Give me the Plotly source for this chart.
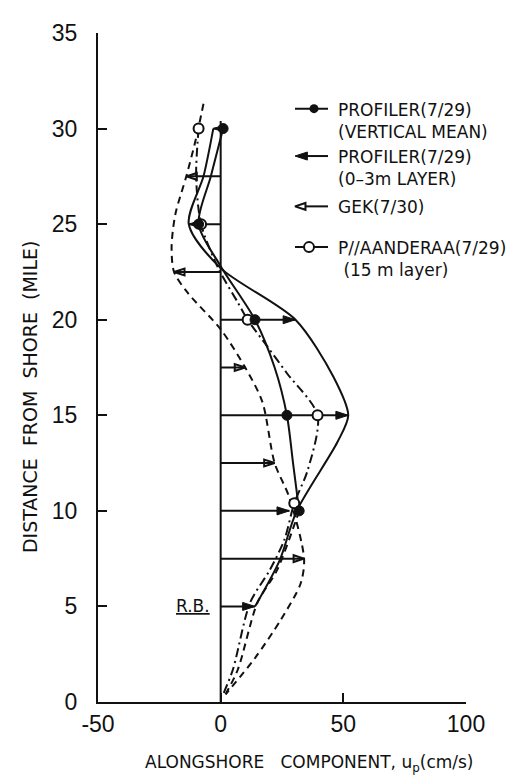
import plotly.graph_objects as go

# ---------------- data ----------------
# PROFILER (7/29) vertical mean : filled circles + solid curve
vm_y = [30, 25, 20, 15, 10]
vm_x = [1, -9, 14, 27, 32]
vm_curve_y = [30, 27.5, 25, 22.8, 20, 17.5, 15, 12.5, 10]
vm_curve_x = [1, -4, -9, 0, 14, 22, 27, 29.5, 32]
vm_ext_y = [10, 6.9, 5.2, 1.7, 0.4]
vm_ext_x = [32, 23, 15, 7, 2]

# PROFILER (7/29) 0-3 m layer : filled arrows + solid curve
pl_y = [30, 25, 20, 15, 10]
pl_x = [-3, -13, 30.5, 52, 28]
pl_curve_y = [30, 27.5, 25, 22.7, 20, 17, 15, 13.6, 10, 7.4, 5]
pl_curve_x = [-3, -7, -13, 0, 30.5, 46, 52, 47.6, 31, 24, 14]

# R.B. arrow
rb_y = [5]
rb_x = [14]

# GEK (7/30) : open arrows + dashed curve
gek_y = [27.5, 22.5, 17.5, 12.5, 7.5]
gek_x = [-14, -19, 10, 22, 34]
gek_curve_y = [31.3, 29.5, 27.5, 25.5, 23.8, 22.5, 21.4, 19.5, 17.5, 15.7, 12.5, 10.7, 7.5, 6.2, 4.3, 2.3, 0.4]
gek_curve_x = [-7, -10, -14, -18.5, -20, -19, -13.4, 0, 10, 17, 22, 28, 34, 32.6, 24.5, 14, 2]

# P//AANDERAA (7/29) 15 m layer : open circles + dash-dot curve
aa_y = [30, 25, 20, 15, 10.4]
aa_x = [-9, -8, 11, 39.5, 30]
aa_curve_y = [30, 27.5, 25, 22.7, 20.9, 20, 18.6, 17.2, 15, 12.1, 10.4, 8.5, 6.9, 5.2, 1.7, 0.4]
aa_curve_x = [-9, -10, -8, -1, 7, 11, 19, 27, 39.5, 35.4, 30, 26, 20, 12, 5, 1]

# shore reference line (x = 0)
zero_y = [0, 30.4]
zero_x = [0, 0]

x_ticks = [-50, 0, 50, 100]
x_ticktext = ["-50", "0", "50", "100"]
y_ticks = [0, 5, 10, 15, 20, 25, 30, 35]
y_ticktext = ["0", "5", "10", "15", "20", "25", "30", "35"]

# legend entries
leg_labels = [
    "PROFILER(7/29)<br>(VERTICAL MEAN)",
    "PROFILER(7/29)<br>(0–3m LAYER)",
    "GEK(7/30)",
    "P//AANDERAA(7/29)<br> (15 m layer)",
]

# ---------------- figure ----------------
BLACK = "#111111"
L, R, T, B = 90, 63, 16, 81
W, H = 521, 775
pw, ph = W - L - R, H - T - B


def px_x(p):
    return (p - L) / pw


def px_y(p):
    return (H - B - p) / ph


fig = go.Figure()


def shafts(xs, ys):
    sx, sy = [], []
    for x, y in zip(xs, ys):
        sx += [0, x, None]
        sy += [y, y, None]
    return sx, sy


# zero line
fig.add_trace(go.Scatter(x=zero_x, y=zero_y, mode="lines",
                         line=dict(color=BLACK, width=2), hoverinfo="skip"))

# arrow shafts
for xs, ys in [(pl_x, pl_y), (gek_x, gek_y), (rb_x, rb_y)]:
    sx, sy = shafts(xs, ys)
    fig.add_trace(go.Scatter(x=sx, y=sy, mode="lines",
                             line=dict(color=BLACK, width=2), hoverinfo="skip"))

# curves
fig.add_trace(go.Scatter(x=vm_curve_x, y=vm_curve_y, mode="lines",
                         line=dict(color=BLACK, width=2, shape="spline", smoothing=0.8)))
fig.add_trace(go.Scatter(x=vm_ext_x, y=vm_ext_y, mode="lines",
                         line=dict(color=BLACK, width=2, shape="spline", smoothing=0.8, dash="7px,5px")))
fig.add_trace(go.Scatter(x=pl_curve_x, y=pl_curve_y, mode="lines",
                         line=dict(color=BLACK, width=2, shape="spline", smoothing=0.8)))
fig.add_trace(go.Scatter(x=gek_curve_x, y=gek_curve_y, mode="lines",
                         line=dict(color=BLACK, width=2, shape="spline", smoothing=0.8, dash="7px,5px")))
fig.add_trace(go.Scatter(x=aa_curve_x, y=aa_curve_y, mode="lines",
                         line=dict(color=BLACK, width=2, shape="spline", smoothing=0.8,
                                   dash="9px,4px,2px,4px")))


def ang(xs):
    return [90 if v >= 0 else 270 for v in xs]


# arrow heads
fig.add_trace(go.Scatter(x=pl_x + rb_x, y=pl_y + rb_y, mode="markers",
                         marker=dict(symbol="arrow", angle=ang(pl_x + rb_x), size=13,
                                     color=BLACK, line=dict(color=BLACK, width=1))))
fig.add_trace(go.Scatter(x=gek_x, y=gek_y, mode="markers",
                         marker=dict(symbol="arrow-open", angle=ang(gek_x), size=11,
                                     color=BLACK, line=dict(color=BLACK, width=2))))
# point markers
fig.add_trace(go.Scatter(x=aa_x, y=aa_y, mode="markers",
                         marker=dict(symbol="circle", size=10, color="white",
                                     line=dict(color=BLACK, width=2))))
fig.add_trace(go.Scatter(x=vm_x, y=vm_y, mode="markers",
                         marker=dict(symbol="circle", size=10, color=BLACK,
                                     line=dict(color=BLACK, width=1))))

# ---------------- legend (drawn on an overlay axis in plot fractions) ----------------
leg_glyph_y = [px_y(92.7), px_y(140.7), px_y(191.7), px_y(233)]
gx0, gx1 = px_x(287), px_x(320)
# item 1: line + filled dot
fig.add_trace(go.Scatter(x=[gx0, gx1], y=[leg_glyph_y[0]] * 2, mode="lines",
                         line=dict(color=BLACK, width=2), xaxis="x2", yaxis="y2"))
fig.add_trace(go.Scatter(x=[px_x(306)], y=[leg_glyph_y[0]], mode="markers", xaxis="x2", yaxis="y2",
                         marker=dict(symbol="circle", size=9, color=BLACK)))
# item 2: filled arrow to the left
fig.add_trace(go.Scatter(x=[px_x(292), gx1], y=[leg_glyph_y[1]] * 2, mode="lines",
                         line=dict(color=BLACK, width=2), xaxis="x2", yaxis="y2"))
fig.add_trace(go.Scatter(x=[gx0], y=[leg_glyph_y[1]], mode="markers", xaxis="x2", yaxis="y2",
                         marker=dict(symbol="arrow", angle=270, size=13, color=BLACK,
                                     line=dict(color=BLACK, width=1))))
# item 3: open arrow to the left
fig.add_trace(go.Scatter(x=[px_x(297), gx1], y=[leg_glyph_y[2]] * 2, mode="lines",
                         line=dict(color=BLACK, width=2), xaxis="x2", yaxis="y2"))
fig.add_trace(go.Scatter(x=[gx0], y=[leg_glyph_y[2]], mode="markers", xaxis="x2", yaxis="y2",
                         marker=dict(symbol="arrow-open", angle=270, size=11, color=BLACK,
                                     line=dict(color=BLACK, width=2))))
# item 4: line + open circle
fig.add_trace(go.Scatter(x=[gx0, gx1], y=[leg_glyph_y[3]] * 2, mode="lines",
                         line=dict(color=BLACK, width=2), xaxis="x2", yaxis="y2"))
fig.add_trace(go.Scatter(x=[px_x(301)], y=[leg_glyph_y[3]], mode="markers", xaxis="x2", yaxis="y2",
                         marker=dict(symbol="circle", size=10, color="white",
                                     line=dict(color=BLACK, width=2))))

LEG_FONT = dict(family="DejaVu Sans", size=17, color=BLACK)
leg_text_top = [82, 130, 180, 222]
annotations = []
for txt, top in zip(leg_labels, leg_text_top):
    annotations.append(dict(text=txt, x=px_x(328), y=px_y(top), xref="paper", yref="paper",
                            xanchor="left", yanchor="top", align="left", showarrow=False,
                            font=LEG_FONT))

# R.B. label
annotations.append(dict(text="<u>R.B.</u>", x=-3.5, y=rb_y[0], xref="x", yref="y",
                        xanchor="right", yanchor="middle", showarrow=False,
                        font=dict(family="DejaVu Sans", size=17, color=BLACK)))

# axis titles
annotations.append(dict(text="DISTANCE  FROM  SHORE  (MILE)", x=px_x(22), y=px_y(385),
                        xref="paper", yref="paper", xanchor="center", yanchor="middle",
                        showarrow=False, textangle=-90,
                        font=dict(family="DejaVu Sans", size=19, color=BLACK)))
annotations.append(dict(text="ALONGSHORE   COMPONENT, u<sub>p</sub>(cm/s)", x=px_x(301), y=px_y(756),
                        xref="paper", yref="paper", xanchor="center", yanchor="middle",
                        showarrow=False,
                        font=dict(family="DejaVu Sans", size=17, color=BLACK)))

TICK_FONT = dict(family="Liberation Sans", size=23, color=BLACK)
fig.update_layout(
    width=W, height=H,
    margin=dict(l=L, r=R, t=T, b=B),
    paper_bgcolor="white", plot_bgcolor="white",
    showlegend=False,
    annotations=annotations,
    xaxis=dict(range=[-50, 100], tickvals=x_ticks, ticktext=x_ticktext,
               ticks="inside", ticklen=9, tickwidth=2, tickcolor=BLACK,
               showline=True, linewidth=2, linecolor=BLACK,
               showgrid=False, zeroline=False, tickfont=TICK_FONT,
               ticklabelstandoff=0),
    yaxis=dict(range=[0, 35], tickvals=y_ticks, ticktext=y_ticktext,
               ticks="inside", ticklen=9, tickwidth=2, tickcolor=BLACK,
               showline=True, linewidth=2, linecolor=BLACK,
               showgrid=False, zeroline=False, tickfont=TICK_FONT,
               ticklabelstandoff=14),
    xaxis2=dict(range=[0, 1], overlaying="x", visible=False),
    yaxis2=dict(range=[0, 1], overlaying="y", visible=False),
)

fig.write_html("out.html")
